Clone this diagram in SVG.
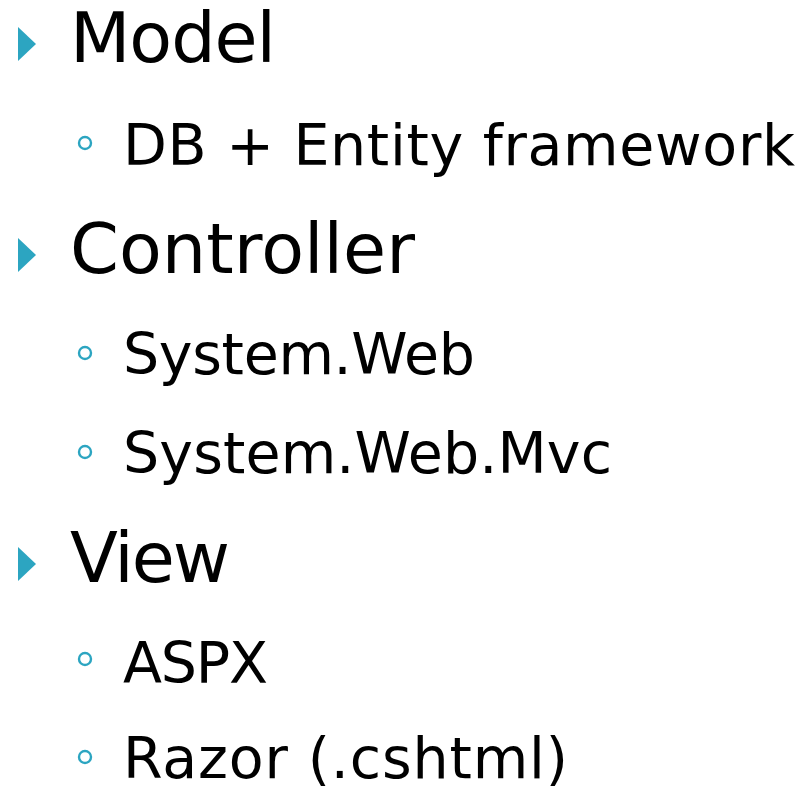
<svg xmlns="http://www.w3.org/2000/svg" width="802" height="788" viewBox="0 0 802 788">
<style>
.l1{font-family:"DejaVu Sans","Open Sans",sans-serif;font-size:70px;fill:#000}
.l2{font-family:"DejaVu Sans","Open Sans",sans-serif;font-size:57px;fill:#000}
.tri{fill:#2CA5C1}
.dot{fill:none;stroke:#2CA5C1;stroke-width:2.4}
</style>
<rect width="802" height="788" fill="#fff"/>
<g id="model">
<polygon class="tri" points="18,27 36,44 18,61"/>
<text class="l1" x="70" y="62" textLength="206">Model</text>
</g>
<g id="db">
<circle class="dot" cx="85" cy="143" r="6"/>
<text class="l2" x="123" y="165" textLength="672">DB + Entity framework</text>
</g>
<g id="controller">
<polygon class="tri" points="18,238 36,255 18,272"/>
<text class="l1" x="70" y="273" textLength="345">Controller</text>
</g>
<g id="sysweb">
<circle class="dot" cx="85" cy="353" r="6"/>
<text class="l2" x="123" y="374" textLength="352">System.Web</text>
</g>
<g id="syswebmvc">
<circle class="dot" cx="85" cy="452" r="6"/>
<text class="l2" x="123" y="473" textLength="489">System.Web.Mvc</text>
</g>
<g id="view">
<polygon class="tri" points="18,547 36,564 18,581"/>
<text class="l1" x="70" y="582" textLength="160">View</text>
</g>
<g id="aspx">
<circle class="dot" cx="85" cy="659" r="6"/>
<text class="l2" x="123" y="683" textLength="145">ASPX</text>
</g>
<g id="razor">
<circle class="dot" cx="85" cy="757" r="6"/>
<text class="l2" x="123" y="778" textLength="445">Razor (.cshtml)</text>
</g>
</svg>
